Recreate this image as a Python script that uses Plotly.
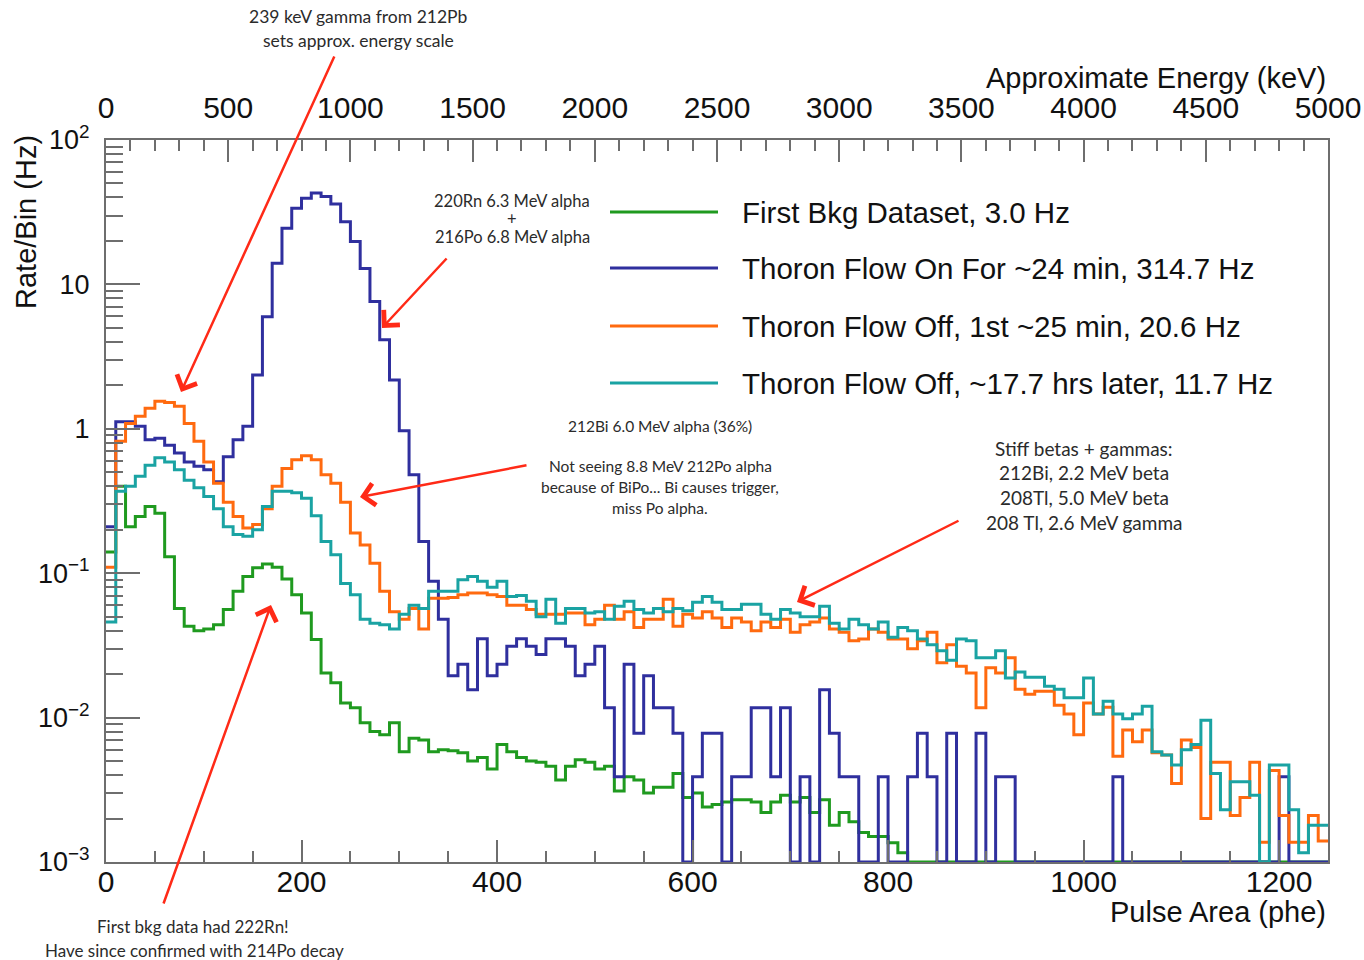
import numpy as np
import plotly.graph_objects as go

# ---- binning -------------------------------------------------------------
BIN_WIDTH = 10          # phe per bin
N_BINS = 125
X_MAX = N_BINS * BIN_WIDTH
KEV_PER_PHE = 4.0       # approximate energy scale for the top axis
edges = np.arange(N_BINS + 1) * BIN_WIDTH

Y_MIN, Y_MAX = 1e-3, 1e2

# ---- rate per bin (Hz) ----------------------------------------------------
first_bkg = [
    0.14, 0.40, 0.21, 0.247, 0.29, 0.26, 0.13, 0.057, 0.043, 0.040,
    0.041, 0.044, 0.056, 0.075, 0.095, 0.109, 0.116, 0.110, 0.091, 0.071,
    0.053, 0.0347, 0.0204, 0.0174, 0.0126, 0.0117, 0.0092, 0.0080, 0.0076, 0.0092,
    0.0058, 0.0072, 0.0070, 0.0058, 0.0060, 0.0059, 0.0057, 0.0050, 0.0053, 0.0044,
    0.0065, 0.0058, 0.0053, 0.0050, 0.0049, 0.0046, 0.0037, 0.0046, 0.0051, 0.0049,
    0.0044, 0.0046, 0.0031, 0.0039, 0.0037, 0.0030, 0.0033, 0.0033, 0.0041, 0.0028,
    0.0030, 0.0024, 0.0025, 0.0026, 0.0027, 0.0027, 0.0026, 0.0022, 0.0026, 0.0029,
    0.0026, 0.0028, 0.0022, 0.0027, 0.0018, 0.0022, 0.0019, 0.0016, 0.0015, 0.0015,
    0.00136, 0.00116, 0, 0, 0, 0, 0, 0, 0, 0,
    0, 0, 0, 0, 0, 0, 0, 0, 0, 0,
    0, 0, 0, 0, 0, 0, 0, 0, 0, 0,
    0, 0, 0, 0, 0, 0, 0, 0, 0, 0,
    0, 0, 0, 0, 0,
]

flow_on = [
    0.21, 1.12, 1.12, 1.04, 0.84, 0.86, 0.77, 0.68, 0.59, 0.55,
    0.52, 0.43, 0.64, 0.84, 1.04, 2.36, 5.98, 14.0, 24.5, 33.7,
    39.5, 43.0, 40.6, 36.0, 27.2, 19.8, 12.9, 7.6, 4.13, 2.18,
    0.97, 0.48, 0.166, 0.088, 0.048, 0.0195, 0.0234, 0.0156, 0.0351, 0.0195,
    0.0234, 0.0312, 0.0351, 0.0312, 0.0273, 0.0351, 0.0351, 0.0312, 0.0195, 0.0234,
    0.0312, 0.0117, 0.0039, 0.0234, 0.0078, 0.0195, 0.0117, 0.0117, 0.0078, 0,
    0.0039, 0.0078, 0.0078, 0, 0.0039, 0.0039, 0.0117, 0.0117, 0.0039, 0.0117,
    0, 0.0039, 0, 0.0156, 0.0078, 0.0039, 0.0039, 0, 0, 0.0039,
    0, 0, 0.0039, 0.0078, 0.0039, 0, 0.0078, 0, 0, 0.0078,
    0, 0.0039, 0.0039, 0, 0, 0, 0, 0, 0, 0,
    0, 0, 0, 0.0039, 0, 0, 0, 0, 0, 0,
    0, 0, 0, 0, 0, 0, 0, 0, 0, 0,
    0.0039, 0, 0, 0, 0,
]

flow_off_first = [
    0.11, 0.82, 1.09, 1.22, 1.39, 1.55, 1.52, 1.43, 1.09, 0.82,
    0.59, 0.42, 0.31, 0.247, 0.206, 0.217, 0.28, 0.40, 0.53, 0.61,
    0.65, 0.61, 0.48, 0.42, 0.31, 0.19, 0.157, 0.117, 0.075, 0.054,
    0.048, 0.057, 0.041, 0.067, 0.067, 0.068, 0.071, 0.073, 0.073, 0.071,
    0.069, 0.060, 0.060, 0.056, 0.052, 0.052, 0.052, 0.053, 0.053, 0.044,
    0.048, 0.060, 0.048, 0.054, 0.042, 0.048, 0.048, 0.066, 0.043, 0.052,
    0.049, 0.054, 0.049, 0.042, 0.049, 0.046, 0.040, 0.046, 0.042, 0.048,
    0.039, 0.044, 0.046, 0.049, 0.041, 0.039, 0.034, 0.035, 0.041, 0.039,
    0.035, 0.035, 0.030, 0.034, 0.039, 0.024, 0.032, 0.0227, 0.0204, 0.0117,
    0.0221, 0.0204, 0.026, 0.0157, 0.0145, 0.0152, 0.0152, 0.0122, 0.0106, 0.0076,
    0.0126, 0.0106, 0.0118, 0.0054, 0.0082, 0.0068, 0.0082, 0.0057, 0.0055, 0.0035,
    0.0070, 0.0062, 0.0020, 0.0049, 0.0049, 0.0021, 0.0028, 0.0049, 0.00137, 0.0043,
    0.0021, 0.00137, 0.00137, 0.0021, 0.0014,
]

flow_off_later = [
    0.046, 0.37, 0.40, 0.47, 0.56, 0.63, 0.59, 0.52, 0.44, 0.39,
    0.34, 0.28, 0.21, 0.185, 0.18, 0.20, 0.29, 0.37, 0.37, 0.36,
    0.33, 0.25, 0.166, 0.134, 0.085, 0.071, 0.048, 0.045, 0.044, 0.041,
    0.052, 0.060, 0.057, 0.075, 0.075, 0.075, 0.090, 0.095, 0.088, 0.080,
    0.088, 0.069, 0.070, 0.064, 0.050, 0.066, 0.045, 0.057, 0.057, 0.053,
    0.054, 0.048, 0.059, 0.064, 0.056, 0.053, 0.057, 0.054, 0.057, 0.055,
    0.063, 0.069, 0.063, 0.056, 0.056, 0.061, 0.061, 0.052, 0.048, 0.056,
    0.053, 0.050, 0.050, 0.059, 0.045, 0.041, 0.048, 0.044, 0.041, 0.046,
    0.036, 0.042, 0.040, 0.035, 0.032, 0.029, 0.025, 0.035, 0.034, 0.026,
    0.026, 0.029, 0.0188, 0.0207, 0.019, 0.019, 0.0165, 0.0157, 0.0137, 0.0137,
    0.0188, 0.0106, 0.013, 0.0106, 0.0098, 0.0106, 0.0120, 0.0058, 0.0055, 0.0047,
    0.0060, 0.0065, 0.0096, 0.0041, 0.0023, 0.0036, 0.0036, 0.0029, 0, 0.0047,
    0.0047, 0.0023, 0.00116, 0.0018, 0.0018,
]

series = [first_bkg, flow_on, flow_off_first, flow_off_later]
series_labels = [
    "First Bkg Dataset, 3.0 Hz",
    "Thoron Flow On For ~24 min, 314.7 Hz",
    "Thoron Flow Off, 1st ~25 min, 20.6 Hz",
    "Thoron Flow Off, ~17.7 hrs later, 11.7 Hz",
]
series_colors = ["#1f9a1f", "#2f2f9e", "#ff6a0f", "#1aa3a3"]

bottom_ticks = [0, 200, 400, 600, 800, 1000, 1200]
top_ticks = [0, 500, 1000, 1500, 2000, 2500, 3000, 3500, 4000, 4500, 5000]
y_ticks = [1e-3, 1e-2, 1e-1, 1, 10, 100]
y_ticktext = ["10<sup>\u22123</sup>", "10<sup>\u22122</sup>", "10<sup>\u22121</sup>",
              "1", "10", "10<sup>2</sup>"]
y_minor = [k * 10.0 ** e for e in range(-3, 2) for k in range(2, 10)]

# ---- page geometry (pixels) ----------------------------------------------
W, H = 1364, 960
ML, MR, MT, MB = 106, 36, 140, 98
PW, PH = W - ML - MR, H - MT - MB

def px_x(px):
    return (px - ML) / PW

def px_y(py):
    return (H - MB - py) / PH

FONT_MAIN = "Liberation Sans, Arial, Helvetica, sans-serif"
FONT_NOTE = "Lato, Open Sans, sans-serif"
AXIS_GREY = "#6e6e6e"
ARROW_RED = "#ff2a17"
NOTE_GREY = "#2b2b2b"


def step_xy(vals):
    v = np.asarray(vals, dtype=float)
    v = np.where(v > Y_MIN, v, Y_MIN)   # empty bins rest on the axis floor
    return edges, np.append(v, v[-1])


fig = go.Figure()
for vals, label, color in zip(series, series_labels, series_colors):
    x, y = step_xy(vals)
    fig.add_trace(go.Scatter(
        x=x, y=y, mode="lines", name=label,
        line=dict(color=color, width=3, shape="hv"),
        showlegend=False, hoverinfo="skip",
    ))

# invisible carrier so the energy axis is drawn on top
fig.add_trace(go.Scatter(
    x=[0, X_MAX * KEV_PER_PHE], y=[Y_MIN, Y_MIN], xaxis="x2", mode="lines",
    opacity=0, showlegend=False, hoverinfo="skip",
))

x_tick_font = dict(family=FONT_MAIN, size=30, color="#111111")
y_tick_font = dict(family=FONT_MAIN, size=27, color="#111111")

fig.update_layout(
    width=W, height=H,
    margin=dict(l=ML, r=MR, t=MT, b=MB, pad=0, autoexpand=False),
    paper_bgcolor="white", plot_bgcolor="white",
    showlegend=False,
    xaxis=dict(
        range=[0, X_MAX], tickmode="array", tickvals=bottom_ticks,
        ticktext=[str(t) for t in bottom_ticks],
        ticks="inside", ticklen=22, tickwidth=1.5, tickcolor=AXIS_GREY,
        minor=dict(ticks="inside", ticklen=11, tickwidth=1.5, tickcolor=AXIS_GREY,
                   tickmode="linear", tick0=0, dtick=50),
        showline=True, linecolor=AXIS_GREY, linewidth=2,
        showgrid=False, zeroline=False, tickfont=x_tick_font,
        ticklabelstandoff=-8, automargin=False,
    ),
    xaxis2=dict(
        overlaying="x", side="top", range=[0, X_MAX * KEV_PER_PHE],
        tickmode="array", tickvals=top_ticks, ticktext=[str(t) for t in top_ticks],
        ticks="inside", ticklen=22, tickwidth=1.5, tickcolor=AXIS_GREY,
        minor=dict(ticks="inside", ticklen=11, tickwidth=1.5, tickcolor=AXIS_GREY,
                   tickmode="linear", tick0=0, dtick=100),
        showline=True, linecolor=AXIS_GREY, linewidth=2,
        showgrid=False, zeroline=False, tickfont=x_tick_font,
        ticklabelstandoff=8, automargin=False,
    ),
    yaxis=dict(
        type="log", range=[np.log10(Y_MIN), np.log10(Y_MAX)],
        tickmode="array", tickvals=y_ticks, ticktext=y_ticktext,
        ticks="inside", ticklen=34, tickwidth=1.5, tickcolor=AXIS_GREY,
        minor=dict(ticks="inside", ticklen=17, tickwidth=1.5, tickcolor=AXIS_GREY,
                   tickmode="array", tickvals=y_minor),
        showline=True, mirror=True, linecolor=AXIS_GREY, linewidth=2,
        showgrid=False, zeroline=False, tickfont=y_tick_font,
        ticklabelstandoff=9, automargin=False,
    ),
)

# ---- axis titles ----------------------------------------------------------
title_font = dict(family=FONT_MAIN, size=29, color="#111111")
fig.add_annotation(text="Pulse Area (phe)", xref="paper", yref="paper",
                   x=1, y=px_y(912), xanchor="right", yanchor="middle",
                   showarrow=False, font=title_font)
fig.add_annotation(text="Approximate Energy (keV)", xref="paper", yref="paper",
                   x=1, y=px_y(78), xanchor="right", yanchor="middle",
                   showarrow=False, font=title_font)
fig.add_annotation(text="Rate/Bin (Hz)", xref="paper", yref="paper",
                   x=px_x(26), y=px_y(222), xanchor="center", yanchor="middle",
                   textangle=-90, showarrow=False, font=title_font)

# ---- legend ---------------------------------------------------------------
legend_font = dict(family=FONT_MAIN, size=29.5, color="#111111")
legend_rows_px = [212, 268, 326, 383]
for row, label, color in zip(legend_rows_px, series_labels, series_colors):
    fig.add_shape(type="line", xref="paper", yref="paper",
                  x0=px_x(610), x1=px_x(718), y0=px_y(row), y1=px_y(row),
                  line=dict(color=color, width=3))
    fig.add_annotation(text=label, xref="paper", yref="paper",
                       x=px_x(740), y=px_y(row), xanchor="left", yanchor="middle",
                       showarrow=False, font=legend_font)

# ---- notes (one annotation per line, centred) ------------------------------
def note(lines, cx, rows_px, size):
    for text, cy in zip(lines, rows_px):
        fig.add_annotation(
            text=text, xref="paper", yref="paper",
            x=px_x(cx), y=px_y(cy), xanchor="center", yanchor="middle",
            showarrow=False,
            font=dict(family=FONT_NOTE, size=size, color=NOTE_GREY),
        )

note(["239 keV gamma from 212Pb", "sets approx. energy scale"], 358, [17, 40], 17.5)
note(["220Rn 6.3 MeV alpha", "+", "216Po 6.8 MeV alpha"], 512, [201, 219, 237], 16.5)
note(["212Bi 6.0 MeV alpha (36%)"], 660, [426], 15.5)
note(["Not seeing 8.8 MeV 212Po alpha", "because of BiPo... Bi causes trigger,",
      "miss Po alpha."], 660, [466, 487, 508], 15.5)
note(["Stiff betas + gammas:", "212Bi, 2.2 MeV beta", "208Tl, 5.0 MeV beta",
      "208 Tl, 2.6 MeV gamma"], 1084, [448, 472, 497, 522], 19)
note(["First bkg data had 222Rn!"], 193, [927], 17)
note(["Have since confirmed with 214Po decay"], 194, [950], 17)

# ---- arrows (head -> data point, tail near the note) -----------------------
def px_to_data(px, py):
    return (px - ML) / PW * X_MAX, 2 - (py - MT) / PH * 5

arrows_px = [
    ((181, 392), (335, 55)),
    ((382, 328), (448, 257)),
    ((360, 497), (528, 465)),
    ((797, 602), (960, 520)),
    ((271, 605), (163, 905)),
]
for head, tail in arrows_px:
    hx, hy = px_to_data(*head)
    tx, ty = px_to_data(*tail)
    fig.add_annotation(
        x=hx, y=hy, ax=tx, ay=ty, xref="x", yref="y", axref="x", ayref="y",
        text="", showarrow=True, arrowhead=4, arrowsize=1.7, arrowwidth=2.5,
        arrowcolor=ARROW_RED,
    )

fig.write_html("out.html")
